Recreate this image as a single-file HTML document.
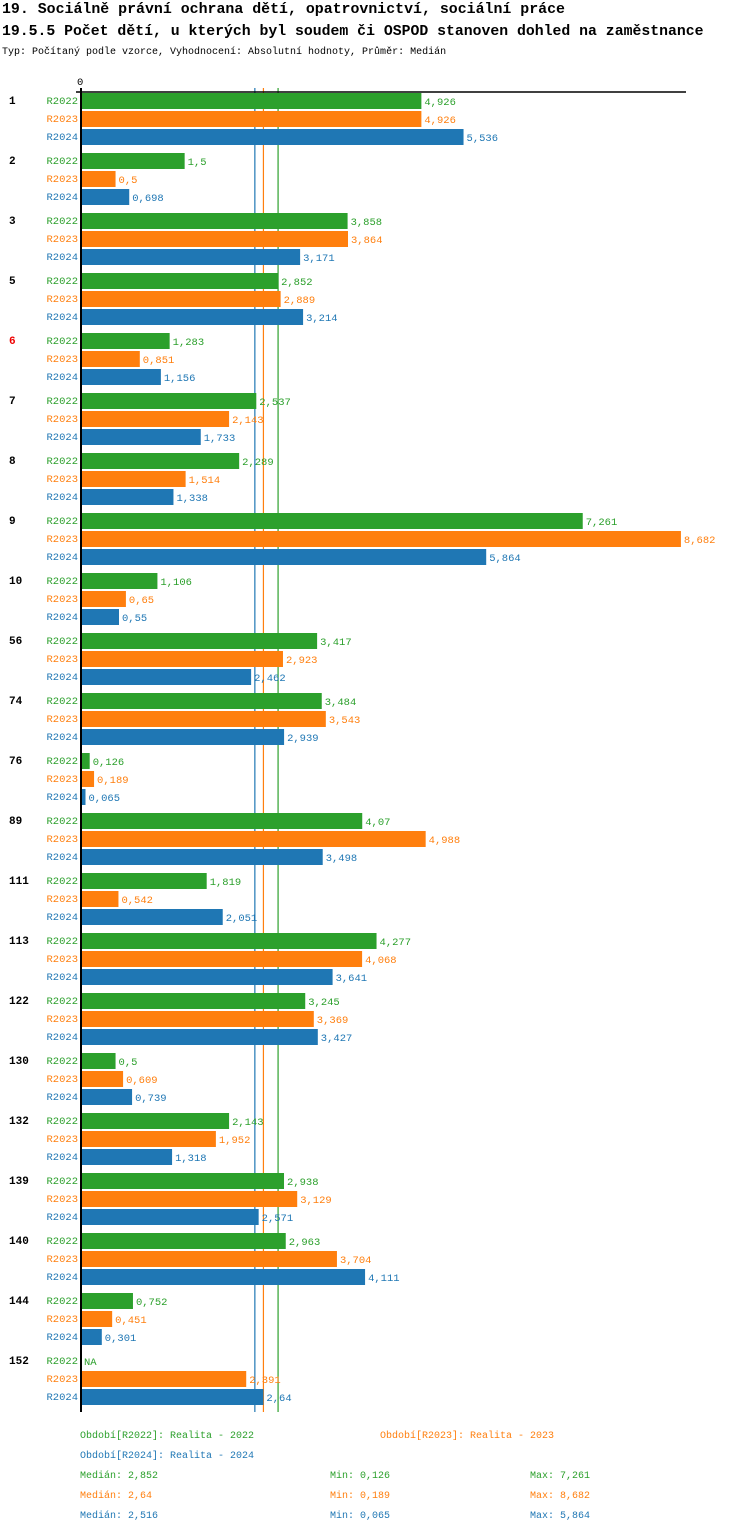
<!DOCTYPE html>
<html><head><meta charset="utf-8"><style>
body{margin:0;background:#fff;}
svg text{font-family:"Liberation Mono",monospace;}
</style></head><body>
<svg id="c" width="750" height="1532" xmlns="http://www.w3.org/2000/svg">
<text x="2" y="13" font-size="14.9" font-weight="bold" fill="#000">19. Sociálně právní ochrana dětí, opatrovnictví, sociální práce</text>
<text x="2" y="35" font-size="14.8" font-weight="bold" fill="#000">19.5.5 Počet dětí, u kterých byl soudem či OSPOD stanoven dohled na zaměstnance</text>
<text x="2" y="54" font-size="10" fill="#000">Typ: Počítaný podle vzorce, Vyhodnocení: Absolutní hodnoty, Průměr: Medián</text>
<g id="plot"></g>
<g id="legend" font-size="10">
<text x="80" y="1438" fill="#2ca02c">Období[R2022]: Realita - 2022</text>
<text x="380" y="1438" fill="#ff7f0e">Období[R2023]: Realita - 2023</text>
<text x="80" y="1458" fill="#1f77b4">Období[R2024]: Realita - 2024</text>
<text x="80" y="1478" fill="#2ca02c">Medián: 2,852</text>
<text x="330" y="1478" fill="#2ca02c">Min: 0,126</text>
<text x="530" y="1478" fill="#2ca02c">Max: 7,261</text>
<text x="80" y="1498" fill="#ff7f0e">Medián: 2,64</text>
<text x="330" y="1498" fill="#ff7f0e">Min: 0,189</text>
<text x="530" y="1498" fill="#ff7f0e">Max: 8,682</text>
<text x="80" y="1518" fill="#1f77b4">Medián: 2,516</text>
<text x="330" y="1518" fill="#1f77b4">Min: 0,065</text>
<text x="530" y="1518" fill="#1f77b4">Max: 5,864</text>
</g>
</svg>
<script>
const categories=["1","2","3","5","6","7","8","9","10","56","74","76","89","111","113","122","130","132","139","140","144","152"];
const seriesNames=["R2022","R2023","R2024"];
const r2022=[4.926,1.5,3.858,2.852,1.283,2.537,2.289,7.261,1.106,3.417,3.484,0.126,4.07,1.819,4.277,3.245,0.5,2.143,2.938,2.963,0.752,null];
const r2023=[4.926,0.5,3.864,2.889,0.851,2.143,1.514,8.682,0.65,2.923,3.543,0.189,4.988,0.542,4.068,3.369,0.609,1.952,3.129,3.704,0.451,2.391];
const r2024=[5.536,0.698,3.171,3.214,1.156,1.733,1.338,5.864,0.55,2.462,2.939,0.065,3.498,2.051,3.641,3.427,0.739,1.318,2.571,4.111,0.301,2.64];
const medians=[2.852,2.64,2.516];
const highlighted=["6"];
const colors=["#2ca02c","#ff7f0e","#1f77b4"];
const series=[r2022,r2023,r2024];
const NS="http://www.w3.org/2000/svg";
const plotG=document.getElementById('plot');
const xs=v=>81+v*69.1;
const groupY=i=>92+i*60;
function mk(t,a){const e=document.createElementNS(NS,t);for(const k in a)e.setAttribute(k,a[k]);plotG.appendChild(e);return e;}
[2,1,0].forEach(s=>{const l=mk('line',{x1:xs(medians[s]),x2:xs(medians[s]),y1:88,y2:1412,stroke:colors[s],'stroke-width':1.2});

});
categories.forEach((c,i)=>{
  const y0=groupY(i);
  const t=mk('text',{x:9,y:y0+12,'font-size':11,'font-weight':'bold',fill:highlighted.includes(c)?'#e00':'#000'});
  t.textContent=c;
  
  
  series.forEach((arr,s)=>{
    const by=y0+1+s*18;
    const lab=mk('text',{x:78,y:by+11,'font-size':10.5,fill:colors[s],'text-anchor':'end'});
    lab.textContent=seriesNames[s];
    
    
    const v=arr[i];
    let end=81;
    if(v!=null){
      const r=mk('rect',{x:81,y:by,width:xs(v)-81,height:16,fill:colors[s]});
      
      
      end=xs(v);
    }
    const vl=mk('text',{x:end+3,y:by+12,'font-size':10.5,fill:colors[s]});
    vl.textContent=v==null?'NA':String(v).replace('.',',');
    
    
  });
});
const yAxis=mk('line',{x1:81,x2:81,y1:88,y2:1412,stroke:'#000','stroke-width':2});


const xAxis=mk('line',{x1:76,x2:686,y1:92,y2:92,stroke:'#000','stroke-width':1.5});


const zeroTick=mk('text',{x:77,y:85,'font-size':10.5,fill:'#000'});
zeroTick.textContent='0';


</script>
</body></html>
